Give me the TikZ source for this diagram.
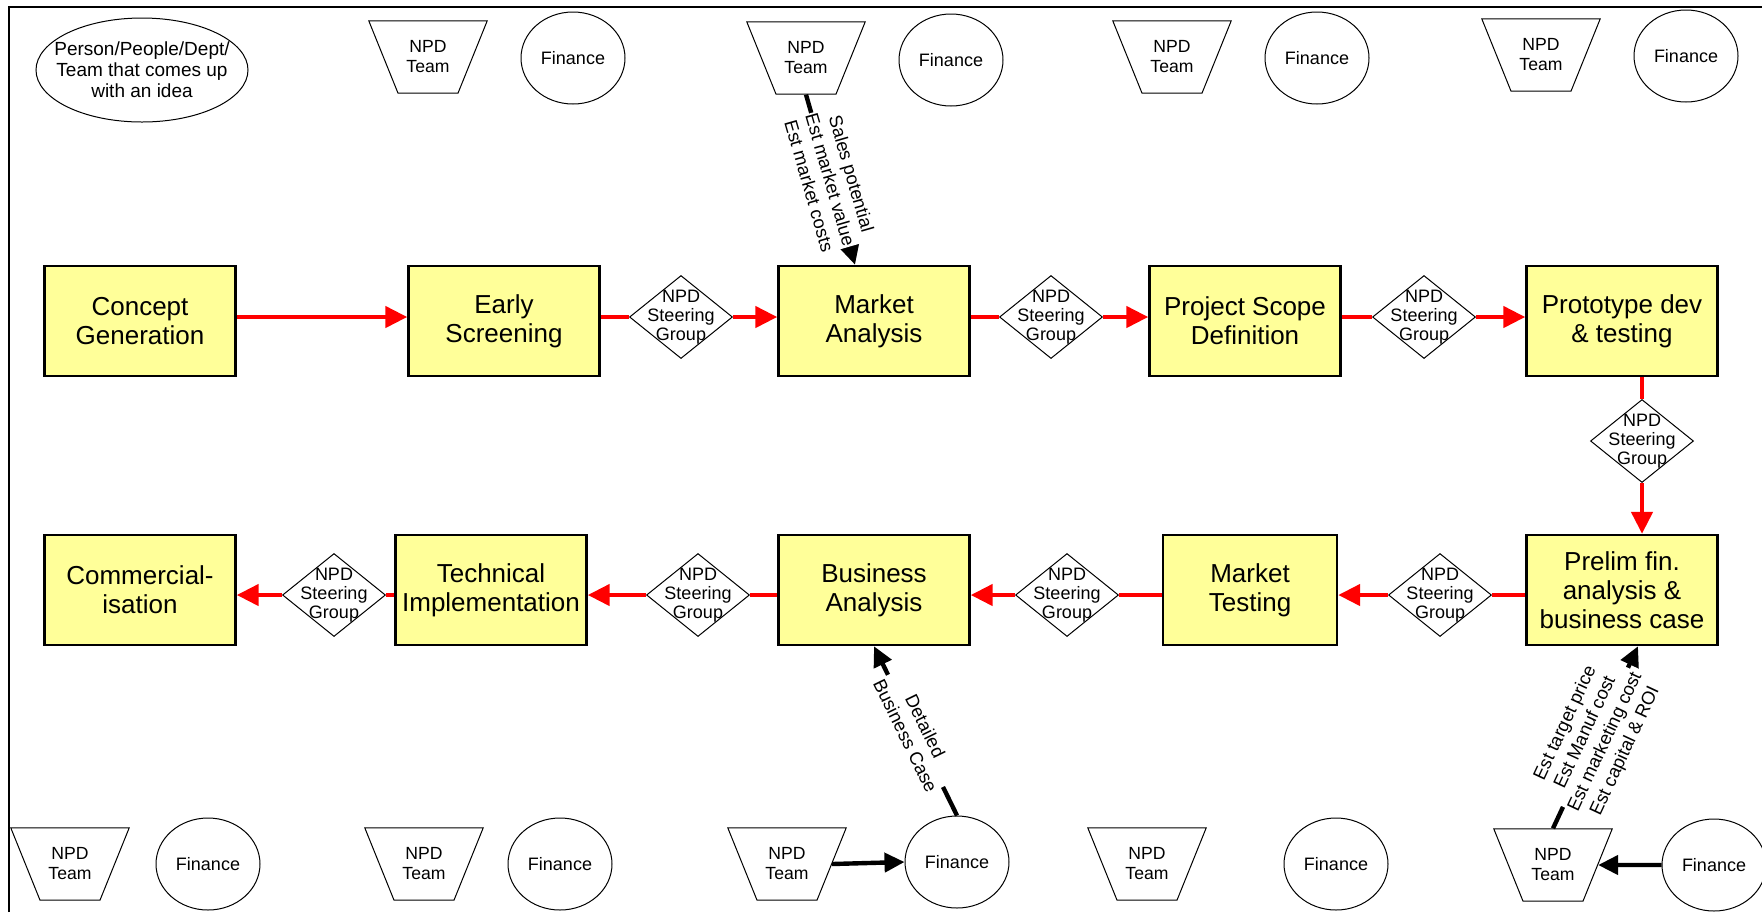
\documentclass[tikz,border=0pt]{standalone}
\usepackage{fontspec}
\setmainfont{Liberation Sans}
\usetikzlibrary{shapes.geometric, arrows.meta}

\definecolor{amarillo}{RGB}{255,255,153}

\begin{document}
\begin{tikzpicture}[x=0.5pt, y=-0.5pt,
	etapa/.style={draw, line width=1.2pt, fill=amarillo, minimum width=95.5pt, minimum height=55pt, inner sep=0pt, align=center, font=\fontsize{13}{14.5}\selectfont},
	decision/.style={diamond, draw, fill=white, line width=0.5pt, minimum width=51.5pt, minimum height=41.5pt, inner sep=0pt,
		label={[align=center, font=\fontsize{9}{9.5}\selectfont]center:NPD\\Steering\\Group}},
	equipo/.style={trapezium, draw, line width=0.5pt, shape border rotate=180, trapezium angle=68, text width=28pt, inner xsep=1pt, inner ysep=10pt, align=center, font=\fontsize{8.8}{10}\selectfont},
	finanzas/.style={ellipse, draw, line width=0.5pt, minimum width=52pt, minimum height=46pt, inner sep=0pt, font=\fontsize{9}{11}\selectfont},
	roja/.style={red, line width=2.25pt},
	flecharoja/.style={roja, -{Triangle[length=11pt, width=10.5pt]}},
	negra/.style={line width=2.2pt, -{Triangle[length=10pt, width=9.5pt]}},
	etiqueta/.style={sloped, fill=white, inner sep=0.5pt, align=center, font=\fontsize{9.2}{11}\selectfont}]

	\useasboundingbox (0,0) rectangle (1762,912);

	% Dibujar el marco
	\draw[line width=1.2pt] (9,912) -- (9,7) -- (1762,7);

	% Dibujar la fuente de ideas
	\node[ellipse, draw, line width=0.5pt, minimum width=106pt, minimum height=52pt, inner sep=0pt,
		label={[align=center, font=\fontsize{9.5}{10.5}\selectfont]center:Person/People/Dept/\\Team that comes up\\with an idea}] (idea) at (142,70) {};

	% Dibujar los equipos de arriba
	\node[equipo] (ta1) at (428,57) {NPD\\Team};
	\node[finanzas] (fa1) at (573,58) {Finance};
	\node[equipo] (ta2) at (806,58) {NPD\\Team};
	\node[finanzas] (fa2) at (951,60) {Finance};
	\node[equipo] (ta3) at (1172,57) {NPD\\Team};
	\node[finanzas] (fa3) at (1317,58) {Finance};
	\node[equipo] (ta4) at (1541,55) {NPD\\Team};
	\node[finanzas] (fa4) at (1686,56) {Finance};

	% Dibujar los equipos de abajo
	\node[equipo] (tb1) at (70,864) {NPD\\Team};
	\node[finanzas] (fb1) at (208,864) {Finance};
	\node[equipo] (tb2) at (424,864) {NPD\\Team};
	\node[finanzas] (fb2) at (560,864) {Finance};
	\node[equipo] (tb3) at (787,864) {NPD\\Team};
	\node[finanzas] (fb3) at (957,862) {Finance};
	\node[equipo] (tb4) at (1147,864) {NPD\\Team};
	\node[finanzas] (fb4) at (1336,864) {Finance};
	\node[equipo] (tb5) at (1553,865) {NPD\\Team};
	\node[finanzas] (fb5) at (1714,865) {Finance};

	% Dibujar las etapas
	\node[etapa] (concepto) at (140,321) {Concept\\Generation};
	\node[etapa] (temprana) at (504,321) {Early\\Screening};
	\node[etapa] (mercado) at (874,321) {Market\\Analysis};
	\node[etapa] (alcance) at (1245,321) {Project Scope\\Definition};
	\node[etapa] (prototipo) at (1622,321) {Prototype dev\\\& testing};
	\node[etapa] (prelim) at (1622,590) {Prelim fin.\\analysis \&\\business case};
	\node[etapa, minimum width=87pt] (prueba) at (1250,590) {Market\\Testing};
	\node[etapa] (negocio) at (874,590) {Business\\Analysis};
	\node[etapa] (tecnica) at (491,590) {Technical\\Implementation};
	\node[etapa] (comercial) at (140,590) {Commercial-\\isation};

	% Dibujar los grupos de decision
	\node[decision] (d1) at (681,317) {};
	\node[decision] (d2) at (1051,317) {};
	\node[decision] (d3) at (1424,317) {};
	\node[decision] (dv) at (1642,441) {};
	\node[decision] (b4) at (1440,595) {};
	\node[decision] (b3) at (1067,595) {};
	\node[decision] (b2) at (698,595) {};
	\node[decision] (b1) at (334,595) {};

	% Dibujar el flujo de arriba
	\draw[flecharoja] (concepto.east |- d1) -- (temprana.west |- d1);
	\draw[roja] (temprana.east |- d1) -- (d1.west);
	\draw[flecharoja] (d1.east) -- (mercado.west |- d1);
	\draw[roja] (mercado.east |- d2) -- (d2.west);
	\draw[flecharoja] (d2.east) -- (alcance.west |- d2);
	\draw[roja] (alcance.east |- d3) -- (d3.west);
	\draw[flecharoja] (d3.east) -- (prototipo.west |- d3);

	% Dibujar el paso hacia abajo
	\draw[roja] (prototipo.south -| dv) -- (dv.north);
	\draw[flecharoja] (dv.south) -- (prelim.north -| dv);

	% Dibujar el flujo de abajo
	\draw[roja] (prelim.west |- b4) -- (b4.east);
	\draw[flecharoja] (b4.west) -- (prueba.east |- b4);
	\draw[roja] (prueba.west |- b3) -- (b3.east);
	\draw[flecharoja] (b3.west) -- (negocio.east |- b3);
	\draw[roja] (negocio.west |- b2) -- (b2.east);
	\draw[flecharoja] (b2.west) -- (tecnica.east |- b2);
	\draw[roja] (tecnica.west |- b1) -- (b1.east);
	\draw[flecharoja] (b1.west) -- (comercial.east |- b1);

	% Dibujar las aportaciones
	\draw[negra] (ta2.270) -- ([xshift=-9.5pt]mercado.north)
		node[etiqueta, midway] {Sales potential\\Est market value\\Est market costs};
	\draw[negra] (tb3.0) -- (fb3.180);
	\draw[negra] (fb3.90) -- (negocio.south)
		node[etiqueta, midway] {Detailed\\Business Case};
	\draw[negra] (fb5.180) -- (tb5.0);
	\draw[negra] (tb5.90) -- ([xshift=8pt]prelim.south)
		node[etiqueta, midway] {Est target price\\Est Manuf cost\\Est marketing cost\\Est capital \& ROI};

\end{tikzpicture}
\end{document}
